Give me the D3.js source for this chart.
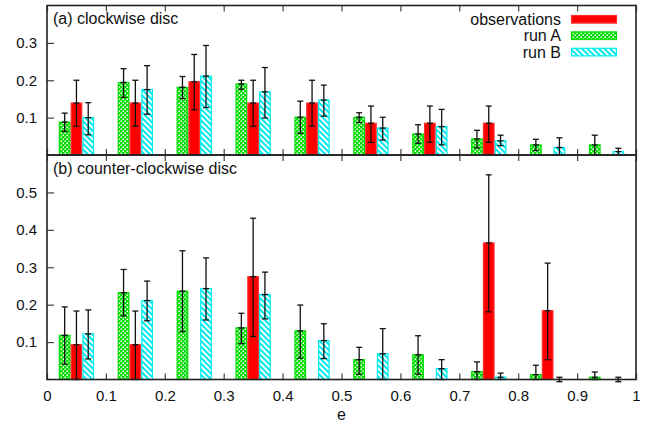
<!DOCTYPE html>
<html>
<head>
<meta charset="utf-8">
<script src="https://cdn.jsdelivr.net/npm/d3@7"></script>
<style>
  body { margin: 0; background: #fff; }
  svg { font-family: "Liberation Sans", Arial, sans-serif; }
</style>
</head>
<body>
<div id="chart"></div>
<script>
// bin centres in e
var bins = [0.05, 0.15, 0.25, 0.35, 0.45, 0.55, 0.65, 0.75, 0.85, 0.95];
var xTicks = [0, 0.1, 0.2, 0.3, 0.4, 0.5, 0.6, 0.7, 0.8, 0.9, 1];

// each entry: [value, lower, upper]  (lower == upper -> no error bar)
// (a) clockwise disc
var cwObs = [[0.139, 0.077, 0.2], [0.139, 0.077, 0.2], [0.196, 0.121, 0.269], [0.139, 0.077, 0.2], [0.139, 0.077, 0.2],
             [0.085, 0.034, 0.131], [0.085, 0.034, 0.131], [0.085, 0.034, 0.131], [0, 0, 0], [0, 0, 0]];
var cwRunA = [[0.088, 0.063, 0.112], [0.194, 0.154, 0.231], [0.181, 0.151, 0.21], [0.19, 0.176, 0.2], [0.101, 0.058, 0.144],
              [0.101, 0.087, 0.113], [0.056, 0.031, 0.081], [0.043, 0.019, 0.066], [0.027, 0.012, 0.042], [0.027, 0, 0.053]];
var cwRunB = [[0.1, 0.054, 0.14], [0.175, 0.109, 0.239], [0.211, 0.127, 0.293], [0.169, 0.099, 0.234], [0.147, 0.104, 0.187],
              [0.072, 0.04, 0.101], [0.076, 0.027, 0.122], [0.038, 0.025, 0.053], [0.02, 0, 0.046], [0.009, 0, 0.018]];

// (b) counter-clockwise disc
var ccwObs = [[0.093, 0, 0.183], [0.093, 0, 0.183], [0, 0, 0], [0.275, 0.115, 0.431], [0, 0, 0],
              [0, 0, 0], [0, 0, 0], [0.365, 0.181, 0.547], [0.184, 0.053, 0.311], [0, 0, 0]];
var ccwRunA = [[0.118, 0.041, 0.194], [0.232, 0.17, 0.294], [0.236, 0.128, 0.344], [0.138, 0.096, 0.177], [0.13, 0.057, 0.199],
               [0.053, 0.014, 0.086], [0.066, 0.014, 0.117], [0.021, 0, 0.047], [0.013, 0, 0.038], [0.006, 0, 0.02]];
var ccwRunB = [[0.122, 0.055, 0.186], [0.211, 0.157, 0.263], [0.243, 0.159, 0.325], [0.227, 0.162, 0.287], [0.104, 0.056, 0.149],
               [0.069, 0, 0.136], [0.029, 0, 0.053], [0.006, 0, 0.017], [0, -0.006, 0.006], [0, -0.006, 0.006]];

var seriesNames = ["observations", "run A", "run B"];

var W = 650, H = 430;
var left = 47, right = 636;
var svg = d3.select("#chart").append("svg")
  .attr("width", W).attr("height", H);

var defs = svg.append("defs");
// run A: green crosshatch
var pa = defs.append("pattern").attr("id", "patA")
  .attr("patternUnits", "userSpaceOnUse").attr("width", 4).attr("height", 4);
pa.append("rect").attr("width", 4).attr("height", 4).attr("fill", "#00dd00");
pa.append("rect").attr("x", 0.5).attr("y", 0.5).attr("width", 1.5).attr("height", 1.5).attr("fill", "#fff");
pa.append("rect").attr("x", 2.5).attr("y", 2.5).attr("width", 1.5).attr("height", 1.5).attr("fill", "#fff");
// run B: cyan diagonal stripes
var pb = defs.append("pattern").attr("id", "patB")
  .attr("patternUnits", "userSpaceOnUse").attr("width", 4).attr("height", 4)
  .attr("patternTransform", "rotate(-45)");
pb.append("rect").attr("width", 4).attr("height", 4).attr("fill", "#fff");
pb.append("line").attr("x1", 1).attr("x2", 1).attr("y1", 0).attr("y2", 4)
  .attr("stroke", "#00e8f0").attr("stroke-width", 2);

var styles = [
  {fill: "#ff0000", stroke: "#ff3030", off: 0},
  {fill: "url(#patA)", stroke: "#00dd00", off: -0.02},
  {fill: "url(#patB)", stroke: "#00eeee", off: 0.02}
];

var x = d3.scaleLinear().domain([0, 1]).range([left, right]);
var barW = x(0.02) - x(0);

var panels = [
  {label: "(a) clockwise disc", top: 5.5, bottom: 155, max: 0.4, yt: [0.1, 0.2, 0.3], data: [cwObs, cwRunA, cwRunB], xlabels: false},
  {label: "(b) counter-clockwise disc", top: 155, bottom: 379.5, max: 0.6, yt: [0.1, 0.2, 0.3, 0.4, 0.5], data: [ccwObs, ccwRunA, ccwRunB], xlabels: true}
];

panels.forEach(function(p) {
  var y = d3.scaleLinear().domain([0, p.max]).range([p.bottom, p.top]);
  var g = svg.append("g");

  // bars: run A, observations, run B
  [1, 0, 2].forEach(function(si) {
    var st = styles[si];
    g.selectAll(".bar" + si)
      .data(p.data[si])
      .enter().append("rect")
      .attr("x", function(d, i) { return x(bins[i] + st.off) - barW / 2 + 0.6; })
      .attr("width", barW - 1.2)
      .attr("y", function(d) { return y(d[0]); })
      .attr("height", function(d) { return Math.max(0, y(0) - y(d[0])); })
      .attr("fill", st.fill)
      .attr("stroke", st.stroke)
      .attr("stroke-width", 1.2);
  });

  // error bars
  [1, 0, 2].forEach(function(si) {
    var st = styles[si];
    var eb = g.selectAll(".err" + si)
      .data(p.data[si].map(function(d, i) { return {d: d, c: bins[i] + st.off}; })
        .filter(function(e) { return e.d[2] > e.d[1]; }))
      .enter().append("g")
      .attr("stroke", "#111")
      .attr("stroke-width", 1.3);
    eb.append("line")
      .attr("x1", function(e) { return x(e.c); }).attr("x2", function(e) { return x(e.c); })
      .attr("y1", function(e) { return y(e.d[1]); }).attr("y2", function(e) { return y(e.d[2]); });
    [1, 2, 0].forEach(function(k) {
      eb.append("line")
        .attr("x1", function(e) { return x(e.c) - 3; }).attr("x2", function(e) { return x(e.c) + 3; })
        .attr("y1", function(e) { return y(e.d[k]); }).attr("y2", function(e) { return y(e.d[k]); });
    });
  });

  // axes with inward ticks
  var yAxis = d3.axisLeft(y).tickValues(p.yt).tickSize(-7).tickPadding(10).tickFormat(d3.format("~g"));
  var ya = svg.append("g").attr("transform", "translate(" + left + ",0)").call(yAxis);
  var xb = svg.append("g").attr("transform", "translate(0," + p.bottom + ")")
    .call(d3.axisBottom(x).tickValues(xTicks).tickSize(-6).tickPadding(11).tickFormat(d3.format("~g")));
  var xt = svg.append("g").attr("transform", "translate(0," + p.top + ")")
    .call(d3.axisTop(x).tickValues(xTicks).tickSize(-6).tickFormat(""));
  if (!p.xlabels) xb.selectAll("text").remove();
  [ya, xb, xt].forEach(function(a) {
    a.select(".domain").remove();
    a.selectAll("line").attr("stroke", "#444").attr("stroke-width", 1.2);
    a.selectAll("text").attr("fill", "#111").style("font-size", "15px")
      .style("font-family", "Liberation Sans, Arial, sans-serif");
  });

  // frame
  svg.append("rect")
    .attr("x", left).attr("y", p.top)
    .attr("width", right - left).attr("height", p.bottom - p.top)
    .attr("fill", "none").attr("stroke", "#222").attr("stroke-width", 1.6);

  svg.append("text")
    .attr("x", 53).attr("y", p.top + 18.5)
    .style("font-size", "16px").attr("fill", "#111")
    .text(p.label);
});

// legend
var legend = svg.append("g");
seriesNames.forEach(function(name, i) {
  var yy = 19.3 + i * 16.4;
  legend.append("text")
    .attr("x", 561).attr("y", yy + 5.5)
    .attr("text-anchor", "end")
    .style("font-size", "16px").attr("fill", "#111")
    .text(name);
  legend.append("rect")
    .attr("x", 571.5).attr("y", yy - 3.8)
    .attr("width", 45).attr("height", 7.6)
    .attr("fill", styles[i].fill)
    .attr("stroke", styles[i].stroke)
    .attr("stroke-width", 1.2);
});

svg.append("text")
  .attr("x", x(0.5)).attr("y", 420)
  .attr("text-anchor", "middle")
  .style("font-size", "16px").attr("fill", "#111")
  .text("e");
</script>
</body>
</html>
